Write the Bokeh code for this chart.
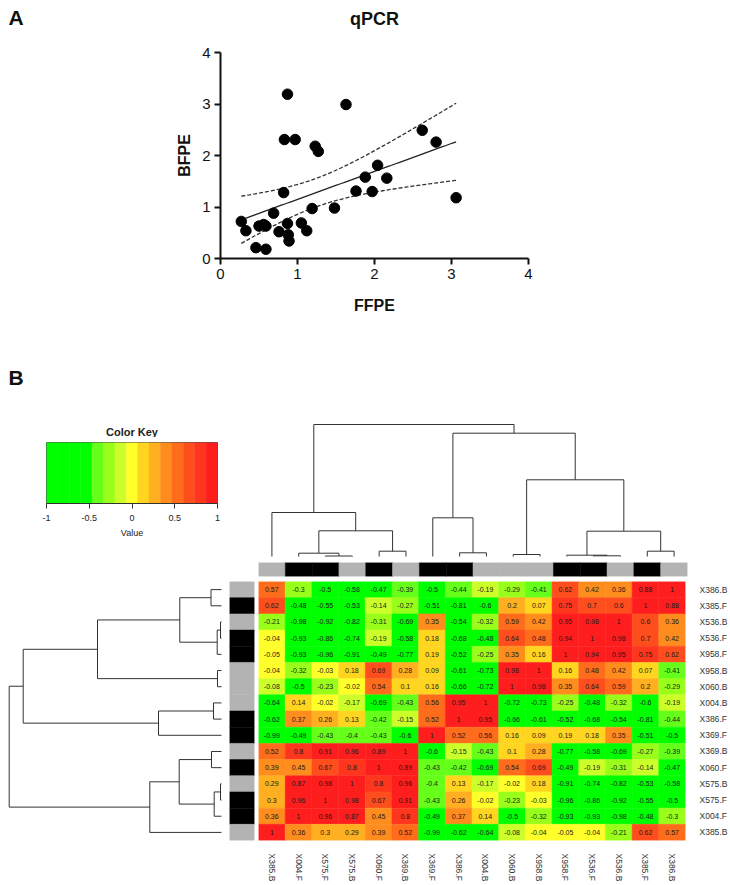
import numpy as np
from bokeh.plotting import figure
from bokeh.models import Range1d, FactorRange, FixedTicker, NumeralTickFormatter, ColumnDataSource
from bokeh.layouts import column, row
from bokeh.embed import file_html
from bokeh.resources import INLINE
from bokeh.core.properties import value

FONT = "Liberation Sans"

# ---------------- Panel A data (qPCR) ----------------
ffpe = [0.27, 0.33, 0.46, 0.50, 0.56, 0.59, 0.59, 0.69, 0.76, 0.82, 0.83, 0.87, 0.87, 0.88, 0.89, 0.97,
        1.05, 1.12, 1.19, 1.23, 1.27, 1.48, 1.63, 1.76, 1.88, 1.97, 2.04, 2.16, 2.62, 2.80, 3.06]
bfpe = [0.72, 0.54, 0.21, 0.63, 0.66, 0.18, 0.63, 0.88, 0.52, 1.28, 2.31, 3.19, 0.68, 0.46, 0.34, 2.31,
        0.69, 0.54, 0.97, 2.18, 2.08, 0.98, 2.99, 1.31, 1.58, 1.30, 1.81, 1.56, 2.49, 2.26, 1.18]
axis_ticks_a = [0, 1, 2, 3, 4]
t_crit = 2.045  # t(0.975, df=29)

# ---------------- Panel B data (correlation heatmap) ----------------
row_names = ["X386.B", "X385.F", "X536.B", "X536.F", "X958.F", "X958.B", "X060.B", "X004.B",
             "X386.F", "X369.F", "X369.B", "X060.F", "X575.B", "X575.F", "X004.F", "X385.B"]
col_names = ["X385.B", "X004.F", "X575.F", "X575.B", "X060.F", "X369.B", "X369.F", "X386.F",
             "X004.B", "X060.B", "X958.B", "X958.F", "X536.F", "X536.B", "X385.F", "X386.B"]
corr_values = [
    [0.57, -0.3, -0.5, -0.58, -0.47, -0.39, -0.5, -0.44, -0.19, -0.29, -0.41, 0.62, 0.42, 0.36, 0.88, 1],
    [0.62, -0.48, -0.55, -0.53, -0.14, -0.27, -0.51, -0.81, -0.6, 0.2, 0.07, 0.75, 0.7, 0.6, 1, 0.88],
    [-0.21, -0.98, -0.92, -0.82, -0.31, -0.69, 0.35, -0.54, -0.32, 0.59, 0.42, 0.95, 0.98, 1, 0.6, 0.36],
    [-0.04, -0.93, -0.86, -0.74, -0.19, -0.58, 0.18, -0.68, -0.48, 0.64, 0.48, 0.94, 1, 0.98, 0.7, 0.42],
    [-0.05, -0.93, -0.96, -0.91, -0.49, -0.77, 0.19, -0.52, -0.25, 0.35, 0.16, 1, 0.94, 0.95, 0.75, 0.62],
    [-0.04, -0.32, -0.03, 0.18, 0.69, 0.28, 0.09, -0.61, -0.73, 0.98, 1, 0.16, 0.48, 0.42, 0.07, -0.41],
    [-0.08, -0.5, -0.23, -0.02, 0.54, 0.1, 0.16, -0.66, -0.72, 1, 0.98, 0.35, 0.64, 0.59, 0.2, -0.29],
    [-0.64, 0.14, -0.02, -0.17, -0.69, -0.43, 0.56, 0.95, 1, -0.72, -0.73, -0.25, -0.48, -0.32, -0.6, -0.19],
    [-0.62, 0.37, 0.26, 0.13, -0.42, -0.15, 0.52, 1, 0.95, -0.66, -0.61, -0.52, -0.68, -0.54, -0.81, -0.44],
    [-0.99, -0.49, -0.43, -0.4, -0.43, -0.6, 1, 0.52, 0.56, 0.16, 0.09, 0.19, 0.18, 0.35, -0.51, -0.5],
    [0.52, 0.8, 0.91, 0.96, 0.89, 1, -0.6, -0.15, -0.43, 0.1, 0.28, -0.77, -0.58, -0.69, -0.27, -0.39],
    [0.39, 0.45, 0.67, 0.8, 1, 0.89, -0.43, -0.42, -0.69, 0.54, 0.69, -0.49, -0.19, -0.31, -0.14, -0.47],
    [0.29, 0.87, 0.98, 1, 0.8, 0.96, -0.4, 0.13, -0.17, -0.02, 0.18, -0.91, -0.74, -0.82, -0.53, -0.58],
    [0.3, 0.96, 1, 0.98, 0.67, 0.91, -0.43, 0.26, -0.02, -0.23, -0.03, -0.96, -0.86, -0.92, -0.55, -0.5],
    [0.36, 1, 0.96, 0.87, 0.45, 0.8, -0.49, 0.37, 0.14, -0.5, -0.32, -0.93, -0.93, -0.98, -0.48, -0.3],
    [1, 0.36, 0.3, 0.29, 0.39, 0.52, -0.99, -0.62, -0.64, -0.08, -0.04, -0.05, -0.04, -0.21, 0.62, 0.57],
]
key_breaks = [-1.0, -0.8667, -0.7333, -0.6, -0.4667, -0.3333, -0.2, -0.0667, 0.0667, 0.2, 0.3333,
              0.4667, 0.6, 0.7333, 0.8667, 1.0]
key_colors = ["#00FF00", "#00FF00", "#00FF00", "#00FF00", "#66FF1A", "#99FF1A", "#CCFF2A", "#FFFF2A",
              "#FFD520", "#FFAF20", "#FF8D1E", "#FF6C1C", "#FF4E1E", "#FF361E", "#FF1E1E"]
key_ticks = [-1, -0.5, 0, 0.5, 1]
group_colors = {"B": "#B3B3B3", "F": "#000000"}
# dendrogram merges: (child a, child b, height); ids < 16 are leaves (display position), 16+k is merge k
row_merges = [(2, 3, 1.0), (16, 4, 4.3), (0, 1, 10.5), (18, 17, 41.7), (5, 6, 4.0), (19, 20, 124.0),
              (7, 8, 8.0), (22, 9, 63.0), (21, 23, 198.3), (12, 13, 1.0), (25, 14, 7.3), (10, 11, 10.0),
              (27, 26, 42.3), (28, 15, 71.7), (24, 29, 212.3)]
col_merges = [(2, 3, 0.5), (1, 16, 3.3), (4, 5, 5.3), (17, 18, 25.7), (0, 19, 44.0), (7, 8, 3.7),
              (6, 21, 38.7), (9, 10, 2.0), (12, 13, 0.7), (11, 24, 1.3), (14, 15, 5.3), (25, 26, 25.3),
              (23, 27, 76.7), (22, 28, 123.3), (20, 29, 132.0)]


def bare(fig):
    fig.outline_line_color = None
    fig.background_fill_color = "white"
    fig.border_fill_color = "white"
    for g in fig.grid:
        g.visible = False
    return fig


def text_panel(w, h):
    f = figure(width=w, height=h, output_backend="svg", toolbar_location=None,
               x_range=Range1d(0, w), y_range=Range1d(h, 0),
               x_axis_location=None, y_axis_location=None,
               min_border_left=0, min_border_right=0, min_border_top=0, min_border_bottom=0)
    return bare(f)


# ---------------- Panel A header ----------------
ha = text_panel(730, 40)
ha.text(x=[8], y=[17], text=["A"], text_font=value(FONT), text_font_size="21px",
        text_font_style="bold", text_align="left", text_baseline="middle", text_color="#111111")
ha.text(x=[374], y=[18], text=["qPCR"], text_font=value(FONT), text_font_size="18px",
        text_font_style="bold", text_align="center", text_baseline="middle", text_color="#111111")

# ---------------- Panel A figure ----------------
pa = figure(width=730, height=305, output_backend="svg", toolbar_location=None,
            x_range=Range1d(0, 4), y_range=Range1d(0, 4),
            min_border_left=220, min_border_right=202, min_border_top=12, min_border_bottom=87)
bare(pa)
x = np.array(ffpe)
y = np.array(bfpe)
n = len(x)
slope, intercept = np.polyfit(x, y, 1)
xf = np.linspace(x.min(), x.max(), 80)
yf = intercept + slope * xf
s = np.sqrt(np.sum((y - (intercept + slope * x)) ** 2) / (n - 2))
sxx = np.sum((x - x.mean()) ** 2)
half = t_crit * s * np.sqrt(1.0 / n + (xf - x.mean()) ** 2 / sxx)
pa.line(xf, yf, line_color="#222222", line_width=1.3)
pa.line(xf, yf + half, line_color="#333333", line_width=1.3, line_dash="4 2")
pa.line(xf, yf - half, line_color="#333333", line_width=1.3, line_dash="4 2")
pa.scatter(ffpe, bfpe, size=10.5, color="black")
for ax in (pa.xaxis[0], pa.yaxis[0]):
    ax.ticker = FixedTicker(ticks=axis_ticks_a)
    ax.minor_tick_line_color = None
    ax.axis_line_width = 2
    ax.axis_line_color = "#111111"
    ax.major_tick_line_width = 2
    ax.major_tick_line_color = "#111111"
    ax.major_tick_out = 6
    ax.major_tick_in = 0
    ax.major_label_text_font = FONT
    ax.major_label_text_font_size = "15px"
    ax.major_label_text_color = "#111111"
    ax.axis_label_text_font = FONT
    ax.axis_label_text_font_size = "16px"
    ax.axis_label_text_font_style = "bold"
    ax.axis_label_text_color = "#111111"
pa.xaxis.axis_label = "FFPE"
pa.yaxis.axis_label = "BFPE"
pa.xaxis.major_label_standoff = 4
pa.yaxis.major_label_standoff = 4
pa.xaxis.axis_label_standoff = 15
pa.yaxis.axis_label_standoff = 6

# ---------------- Panel B header + colour key ----------------
hb = text_panel(258, 92)
hb.text(x=[8], y=[32], text=["B"], text_font=value(FONT), text_font_size="21px",
        text_font_style="bold", text_align="left", text_baseline="middle", text_color="#111111")
hb.text(x=[131.5], y=[86], text=["Color Key"], text_font=value(FONT), text_font_size="11px",
        text_font_style="bold", text_align="center", text_baseline="middle", text_color="#222222")

pk = figure(width=258, height=144, output_backend="svg", toolbar_location=None,
            x_range=Range1d(-1, 1), y_range=Range1d(0, 1), y_axis_location=None,
            min_border_left=46, min_border_right=41, min_border_top=5, min_border_bottom=78)
bare(pk)
pk.outline_line_color = "#555555"
pk.quad(left=key_breaks[:-1], right=key_breaks[1:], bottom=0, top=1,
        fill_color=key_colors, line_color=key_colors, line_width=0.5)
ka = pk.xaxis[0]
ka.ticker = FixedTicker(ticks=key_ticks)
ka.formatter = NumeralTickFormatter(format="0.[0]")
ka.minor_tick_line_color = None
ka.major_tick_out = 5
ka.major_tick_in = 0
ka.axis_line_color = "#333333"
ka.major_tick_line_color = "#333333"
ka.major_label_text_font = FONT
ka.major_label_text_font_size = "9px"
ka.major_label_text_color = "#222222"
ka.major_label_standoff = 6
ka.axis_label = "Value"
ka.axis_label_text_font = FONT
ka.axis_label_text_font_size = "9px"
ka.axis_label_text_font_style = "normal"
ka.axis_label_text_color = "#222222"
ka.axis_label_standoff = 4


# ---------------- Dendrograms ----------------
def dendro_segments(merges, nleaf):
    pos = {i: float(i) for i in range(nleaf)}
    hgt = {i: 0.0 for i in range(nleaf)}
    p0, h0, p1, h1 = [], [], [], []
    for k, (a, b, h) in enumerate(merges):
        for c in (a, b):
            p0.append(pos[c]); h0.append(hgt[c]); p1.append(pos[c]); h1.append(h)
        p0.append(pos[a]); h0.append(h); p1.append(pos[b]); h1.append(h)
        pos[nleaf + k] = (pos[a] + pos[b]) / 2.0
        hgt[nleaf + k] = h
    return p0, h0, p1, h1


cp0, ch0, cp1, ch1 = dendro_segments(col_merges, len(col_names))
pcd = figure(width=472, height=214, output_backend="svg", toolbar_location=None,
             x_range=Range1d(-0.5, 15.5), y_range=Range1d(-3, 211),
             x_axis_location=None, y_axis_location=None,
             min_border_left=0, min_border_right=43, min_border_top=0, min_border_bottom=0)
bare(pcd)
pcd.segment(x0=cp0, y0=ch0, x1=cp1, y1=ch1, line_color="#333333", line_width=1)

rp0, rh0, rp1, rh1 = dendro_segments(row_merges, len(row_names))
prd = figure(width=225, height=304, output_backend="svg", toolbar_location=None,
             x_range=Range1d(221, -4), y_range=Range1d(15.5, -0.5),
             x_axis_location=None, y_axis_location=None,
             min_border_left=0, min_border_right=0, min_border_top=0, min_border_bottom=45)
bare(prd)
prd.segment(x0=rh0, y0=rp0, x1=rh1, y1=rp1, line_color="#333333", line_width=1)

# ---------------- Side colour bars ----------------
rows_rev = list(reversed(row_names))
pcb = figure(width=472, height=22, output_backend="svg", toolbar_location=None,
             x_range=FactorRange(*col_names), y_range=Range1d(0, 1),
             x_axis_location=None, y_axis_location=None,
             min_border_left=0, min_border_right=43, min_border_top=3, min_border_bottom=5)
bare(pcb)
ccols = [group_colors[c.split(".")[1]] for c in col_names]
pcb.rect(x=col_names, y=0.5, width=1, height=1, fill_color=ccols, line_color=ccols, line_width=0.5)

prb = figure(width=33, height=304, output_backend="svg", toolbar_location=None,
             x_range=Range1d(0, 1), y_range=FactorRange(*rows_rev),
             x_axis_location=None, y_axis_location=None,
             min_border_left=4, min_border_right=4, min_border_top=0, min_border_bottom=45)
bare(prb)
rcols = [group_colors[r.split(".")[1]] for r in row_names]
prb.rect(x=0.5, y=row_names, width=1, height=1, fill_color=rcols, line_color=rcols, line_width=0.5)

# ---------------- Heatmap ----------------
xs, ys, vals, cols, labs = [], [], [], [], []
breaks = np.array(key_breaks)
for i, rn in enumerate(row_names):
    for j, cn in enumerate(col_names):
        v = corr_values[i][j]
        k = int(np.clip(np.searchsorted(breaks, v, side="right") - 1, 0, len(key_colors) - 1))
        xs.append(cn); ys.append(rn); vals.append(v); cols.append(key_colors[k]); labs.append(f"{v:g}")
src = ColumnDataSource(dict(x=xs, y=ys, v=vals, c=cols, t=labs))
ph = figure(width=472, height=304, output_backend="svg", toolbar_location=None,
            x_range=FactorRange(*col_names), y_range=FactorRange(*rows_rev),
            y_axis_location="right",
            min_border_left=0, min_border_right=43, min_border_top=0, min_border_bottom=45)
bare(ph)
ph.rect(x="x", y="y", width=1, height=1, fill_color="c", line_color="c", line_width=0.5, source=src)
ph.text(x="x", y="y", text="t", source=src, text_font=value(FONT), text_font_size="7px",
        text_align="center", text_baseline="middle", text_color="#1a1a1a")
for ax in (ph.xaxis[0], ph.yaxis[0]):
    ax.axis_line_color = None
    ax.major_tick_line_color = None
    ax.minor_tick_line_color = None
    ax.major_label_text_font = FONT
    ax.major_label_text_font_size = "8.5px"
    ax.major_label_text_color = "#333333"
ph.xaxis.major_label_orientation = "vertical"
ph.xaxis.major_label_standoff = 7
ph.yaxis.major_label_standoff = 8

layout = column(
    row(ha, spacing=0),
    row(pa, spacing=0),
    row(column(row(hb, spacing=0), row(pk, spacing=0), spacing=0), column(pcd, pcb, spacing=0), spacing=0),
    row(prd, prb, ph, spacing=0),
    spacing=0,
)

with open("out.html", "w") as f:
    f.write(file_html(layout, INLINE))
